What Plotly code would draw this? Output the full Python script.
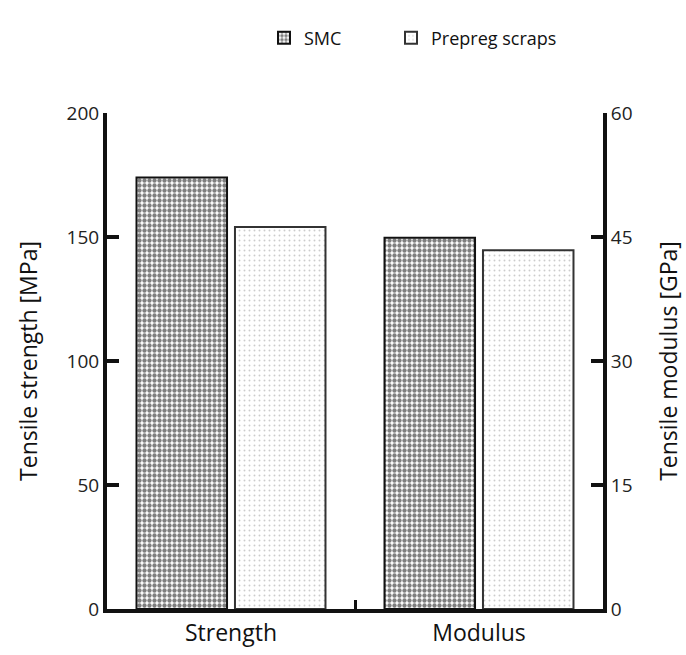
import plotly.graph_objects as go

categories = ["Strength", "Modulus"]
series_names = ["SMC", "Prepreg scraps"]
strength_mpa = [174, 154]      # SMC, Prepreg scraps
modulus_gpa = [44.9, 43.4]     # SMC, Prepreg scraps
left_ticks = [0, 50, 100, 150, 200]
right_ticks = [0, 15, 30, 45, 60]

FONT = "Open Sans"
patterns = [
    dict(shape=".", fgcolor="#000000", bgcolor="white", size=5, solidity=0.6),
    dict(shape=".", fgcolor="#999999", bgcolor="white", size=5, solidity=0.12),
]
outlines = ["#111111", "#333333"]
offsets = [-0.381, 0.016]
legend_ids = ["legend", "legend2"]
bw = 0.365

fig = go.Figure()
for i, name in enumerate(series_names):
    fig.add_trace(go.Bar(
        x=[categories[0]], y=[strength_mpa[i]], name=name,
        width=bw, offset=offsets[i],
        marker=dict(color="white", pattern=patterns[i],
                    line=dict(color=outlines[i], width=2)),
        legendgroup=name, showlegend=True, legend=legend_ids[i], yaxis="y",
    ))
for i, name in enumerate(series_names):
    fig.add_trace(go.Bar(
        x=[categories[1]], y=[modulus_gpa[i]], name=name,
        width=bw, offset=offsets[i],
        marker=dict(color="white", pattern=patterns[i],
                    line=dict(color=outlines[i], width=2)),
        legendgroup=name, showlegend=False, legend=legend_ids[i], yaxis="y2",
    ))

legend_common = dict(orientation="h", xref="container", yref="container",
                     xanchor="left", yanchor="middle", itemwidth=30,
                     font=dict(size=18, family=FONT, color="#111111"),
                     bgcolor="rgba(0,0,0,0)")

fig.update_layout(
    width=686, height=655,
    margin=dict(l=107, r=83, t=113, b=46, autoexpand=False),
    paper_bgcolor="white", plot_bgcolor="white",
    font=dict(family=FONT, color="#111111", size=18),
    barmode="overlay",
    showlegend=True,
    legend=dict(x=264/686, y=1 - 38/655, **legend_common),
    legend2=dict(x=391/686, y=1 - 38/655, **legend_common),
    xaxis=dict(
        type="category", categoryorder="array", categoryarray=categories,
        range=[-0.5, 1.5], showgrid=False, zeroline=False,
        showline=True, linecolor="#111111", linewidth=4,
        tickson="boundaries", ticks="inside", ticklen=9, tickwidth=3, tickcolor="#111111",
        tickfont=dict(size=23, family=FONT, color="#111111"),
    ),
    yaxis=dict(
        range=[0, 200], tickvals=left_ticks, showgrid=False, zeroline=False,
        showline=True, linecolor="#111111", linewidth=4,
        ticks="inside", ticklen=12, tickwidth=4, tickcolor="#111111",
        tickfont=dict(size=19, family=FONT, color="#222222"),
        title=dict(text="Tensile strength [MPa]", font=dict(size=23, family=FONT, color="#111111"), standoff=24),
    ),
    yaxis2=dict(
        range=[0, 60], tickvals=right_ticks, overlaying="y", side="right",
        showgrid=False, zeroline=False,
        showline=True, linecolor="#111111", linewidth=4,
        ticks="inside", ticklen=12, tickwidth=4, tickcolor="#111111",
        tickfont=dict(size=19, family=FONT, color="#222222"),
        title=dict(text="Tensile modulus [GPa]", font=dict(size=23, family=FONT, color="#111111"), standoff=30),
    ),
)

fig.write_html("out.html")
